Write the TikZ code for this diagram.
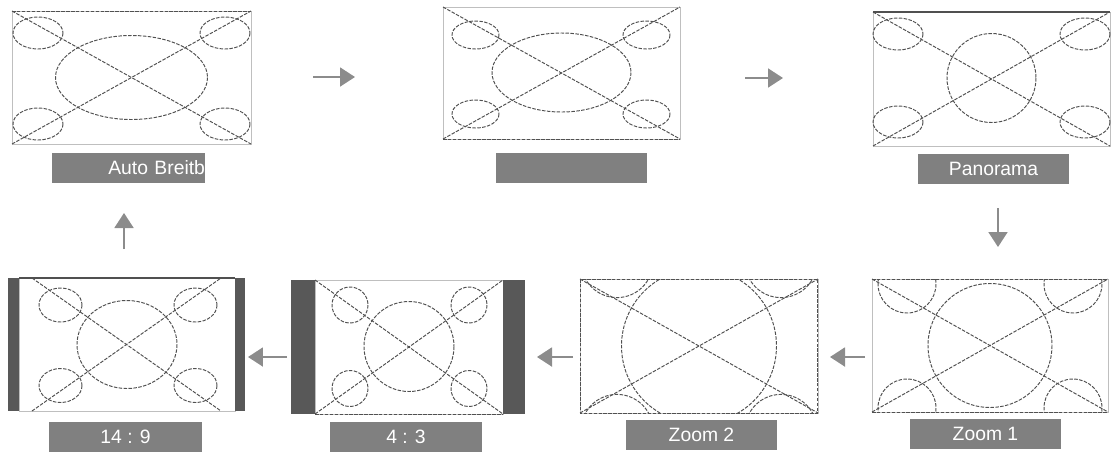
\documentclass[tikz,border=0pt]{standalone}
\usepackage{fontspec}
\setmainfont{Liberation Sans}
\usetikzlibrary{arrows.meta}
\definecolor{tagfill}{RGB}{128,128,128}
\definecolor{mattegray}{RGB}{88,88,88}
\definecolor{flowgray}{RGB}{140,140,140}
\definecolor{guidegray}{RGB}{80,80,80}

\begin{document}
\begin{tikzpicture}[x=0.02cm,y=-0.02cm,
screen/.style={draw=gray!50,line width=0.5pt,inner sep=0pt,outer sep=0pt},
guide/.style={draw=guidegray,line width=0.55pt,dash pattern=on 2pt off 0.8pt},
tag/.style={fill=tagfill,text=white,inner sep=0pt,outer sep=0pt,minimum height=0.6cm,font=\fontsize{11}{13}\selectfont},
matte/.style={fill=mattegray},
flow/.style={draw=flowgray,line width=1.1pt,-{Triangle[length=0.3cm,width=0.38cm]}}]
\useasboundingbox (0,0) rectangle (1117,451);

\node (p1)[screen,minimum width=4.78cm,minimum height=2.66cm] at (131.5,77.5) {};
\node (p2)[screen,minimum width=4.74cm,minimum height=2.64cm] at (561.5,73) {};
\node (p3)[screen,minimum width=4.74cm,minimum height=2.68cm] at (991.5,79) {};
\node (p4)[screen,minimum width=4.72cm,minimum height=2.66cm] at (990,345.5) {};
\node (p5)[screen,minimum width=4.76cm,minimum height=2.68cm] at (699,346) {};
\node (p6)[screen,minimum width=3.76cm,minimum height=2.68cm] at (409,347) {};
\node (p7)[screen,minimum width=4.32cm,minimum height=2.66cm] at (127,344.5) {};

\node (t1)[tag,text width=3.06cm,align=right] at (128.5,168) {Auto Breitb};
\node (t2)[tag,minimum width=3.02cm] at (571.5,168) {};
\node (t3)[tag,minimum width=3.02cm] at (993.5,169) {Panorama};
\node (t4)[tag,minimum width=3.02cm] at (985.5,433.5) {Zoom 1};
\node (t5)[tag,minimum width=3.02cm] at (701.5,435) {Zoom 2};
\node (t6)[tag,minimum width=3.04cm] at (406,437) {4 : 3};
\node (t7)[tag,minimum width=3.06cm] at (125.5,437) {14 : 9};

\draw[guide] (p1.north west) -- (p1.north east);
\draw[guide] (p1.north west) -- (p1.south east);
\draw[guide] (p1.south west) -- (p1.north east);
\draw[guide] (131.5,77.5) ellipse [x radius=76,y radius=42];
\draw[guide] (38,33) ellipse [x radius=25,y radius=16];
\draw[guide] (225,33) ellipse [x radius=25,y radius=16];
\draw[guide] (38,124) ellipse [x radius=25,y radius=16];
\draw[guide] (225,124) ellipse [x radius=25,y radius=16];

\draw[guide] (p2.south west) -- (p2.south east);
\draw[guide] (p2.north west) -- (p2.south east);
\draw[guide] (p2.south west) -- (p2.north east);
\draw[guide] (561.5,72.5) ellipse [x radius=69.5,y radius=39.5];
\draw[guide] (475.5,35) ellipse [x radius=23.5,y radius=14];
\draw[guide] (646.5,35) ellipse [x radius=23.5,y radius=14];
\draw[guide] (475.5,114) ellipse [x radius=23.5,y radius=14];
\draw[guide] (646.5,114) ellipse [x radius=23.5,y radius=14];

\draw[guidegray,line width=0.6pt] (p3.north west) -- (p3.north east);
\draw[guide] (p3.north west) -- (p3.south east);
\draw[guide] (p3.south west) -- (p3.north east);
\draw[guide] (991.5,78) circle [radius=44.5];
\draw[guide] (898,34) ellipse [x radius=25,y radius=16];
\draw[guide] (1085,34) ellipse [x radius=25,y radius=16];
\draw[guide] (898,122) ellipse [x radius=25,y radius=16];
\draw[guide] (1085,122) ellipse [x radius=25,y radius=16];

\draw[guide] (p4.north west) -- (p4.north east);
\draw[guide] (p4.south west) -- (p4.south east);
\draw[guide] (p4.north west) -- (p4.south east);
\draw[guide] (p4.south west) -- (p4.north east);
\draw[guide] (990,345.5) circle [radius=62];
\begin{scope}
\clip (p4.north west) rectangle (p4.south east);
\draw[guide] (907,284) circle [radius=29];
\draw[guide] (1073,284) circle [radius=29];
\draw[guide] (907,408) circle [radius=29];
\draw[guide] (1073,408) circle [radius=29];
\end{scope}

\draw[guide] (p5.north west) rectangle (p5.south east);
\draw[guide] (p5.north west) -- (p5.south east);
\draw[guide] (p5.south west) -- (p5.north east);
\begin{scope}
\clip (p5.north west) rectangle (p5.south east);
\draw[guide] (699,346) circle [radius=77.5];
\draw[guide] (617,261.6) circle [radius=36];
\draw[guide] (781,261.6) circle [radius=36];
\draw[guide] (617,430.4) circle [radius=36];
\draw[guide] (781,430.4) circle [radius=36];
\end{scope}

\fill[matte] (291,280) rectangle (p6.south west);
\fill[matte] (p6.north east) rectangle (525,414);
\draw[guide] (p6.south west) -- (p6.south east);
\draw[guide] (p6.north west) -- (p6.south east);
\draw[guide] (p6.south west) -- (p6.north east);
\draw[guide] (409,346.5) circle [radius=45];
\draw[guide] (350,305) circle [radius=18];
\draw[guide] (469,305) circle [radius=18];
\draw[guide] (350,388.5) circle [radius=18];
\draw[guide] (469,388.5) circle [radius=18];

\fill[matte] (8,278) rectangle (p7.south west);
\fill[matte] (p7.north east) rectangle (245,411);
\draw[guidegray,line width=0.6pt] (p7.north west) -- (p7.north east);
\draw[guide] (32,278) -- (221,411);
\draw[guide] (32,411) -- (221,278);
\draw[guide] (127,344.5) ellipse [x radius=50,y radius=44];
\draw[guide] (60.5,305) ellipse [x radius=21.5,y radius=17];
\draw[guide] (195.5,305) ellipse [x radius=21.5,y radius=17];
\draw[guide] (60.5,385.5) ellipse [x radius=21.5,y radius=17];
\draw[guide] (195.5,385.5) ellipse [x radius=21.5,y radius=17];

\coordinate (a1) at (313,77);
\coordinate (b1) at (355,77);
\coordinate (a2) at (745,78);
\coordinate (b2) at (783,78);
\coordinate (a3) at (998,208);
\coordinate (b3) at (998,247);
\coordinate (a4) at (865,357);
\coordinate (b4) at (830,357);
\coordinate (a5) at (573,357);
\coordinate (b5) at (537,357);
\coordinate (a6) at (287,357);
\coordinate (b6) at (248,357);
\coordinate (a7) at (124,249);
\coordinate (b7) at (124,213);

\draw[flow] (a1) -- (b1);
\draw[flow] (a2) -- (b2);
\draw[flow] (a3) -- (b3);
\draw[flow] (a4) -- (b4);
\draw[flow] (a5) -- (b5);
\draw[flow] (a6) -- (b6);
\draw[flow] (a7) -- (b7);
\end{tikzpicture}
\end{document}
